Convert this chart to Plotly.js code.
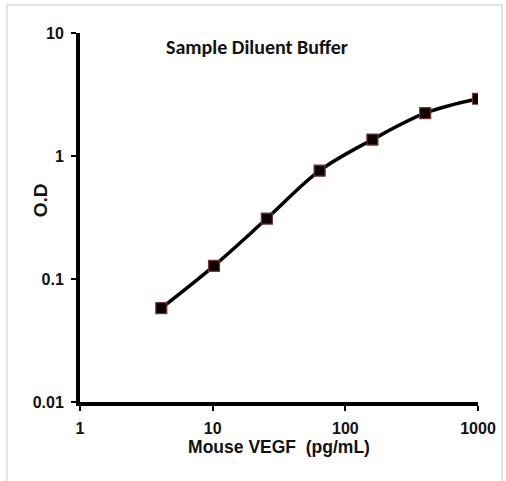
<!DOCTYPE html>
<html>
<head>
<meta charset="utf-8">
<script src="https://cdn.plot.ly/plotly-3.0.1.min.js"></script>
<style>
  html, body { margin: 0; padding: 0; background: #ffffff; }
  #frame { position: absolute; left: 6px; top: 4px; width: 497px; height: 480px;
           border: 2px solid #e4e4e4; border-bottom: none; box-sizing: border-box; }
  #chart { position: absolute; left: 0; top: 0; width: 506px; height: 481px; }
</style>
</head>
<body>
<div id="frame"></div>
<div id="chart"></div>
<script>
// Data
const concentration = [4.1, 10.24, 25.6, 64, 160, 400, 1000]; // Mouse VEGF (pg/mL)
const opticalDensity = [0.058, 0.128, 0.31, 0.76, 1.36, 2.23, 2.92]; // O.D
const xTickValues = [1, 10, 100, 1000];
const xTickLabels = ['1', '10', '100', '1000'];
const yTickValues = [0.01, 0.1, 1, 10];
const yTickLabels = ['0.01', '0.1', '1', '10'];
const chartTitle = 'Sample Diluent Buffer';
const xTitle = 'Mouse VEGF&nbsp;&nbsp;(pg/mL)';
const yTitle = 'O.D';

const sansFont = '"Liberation Sans", Arial, sans-serif';
const tickFont = { family: sansFont, size: 16, color: '#111', weight: 'bold' };

const trace = {
  x: concentration,
  y: opticalDensity,
  type: 'scatter',
  mode: 'lines+markers',
  line: { color: '#000000', width: 3.5, shape: 'spline', smoothing: 1 },
  marker: { symbol: 'square', size: 11, color: '#0a0000', line: { color: '#7a3535', width: 1.2 } },
  hoverinfo: 'x+y'
};

const layout = {
  width: 506,
  height: 481,
  margin: { l: 80, r: 28, t: 33, b: 79 },
  paper_bgcolor: 'rgba(0,0,0,0)',
  plot_bgcolor: 'rgba(0,0,0,0)',
  showlegend: false,
  xaxis: {
    type: 'log',
    range: [0, 3],
    tickvals: xTickValues,
    ticktext: xTickLabels,
    ticks: 'outside',
    ticklen: 5,
    tickwidth: 2,
    tickcolor: '#000',
    ticklabelstandoff: 4,
    showline: true,
    linecolor: '#000',
    linewidth: 4,
    showgrid: false,
    zeroline: false,
    tickfont: tickFont,
    title: { text: xTitle, font: { family: sansFont, size: 17.5, color: '#111', weight: 'bold' }, standoff: 6 }
  },
  yaxis: {
    type: 'log',
    range: [-2, 1],
    tickvals: yTickValues,
    ticktext: yTickLabels,
    ticks: 'outside',
    ticklen: 5,
    tickwidth: 2,
    tickcolor: '#000',
    ticklabelstandoff: 4,
    showline: true,
    linecolor: '#000',
    linewidth: 4,
    showgrid: false,
    zeroline: false,
    tickfont: tickFont,
    title: { text: '' }
  },
  annotations: [{
    text: chartTitle,
    xref: 'paper', yref: 'paper',
    x: 0.445, y: 0.962,
    xanchor: 'center', yanchor: 'middle',
    showarrow: false,
    font: { family: 'Carlito, "Liberation Sans", sans-serif', size: 20, color: '#111', weight: 'bold' }
  }, {
    text: yTitle,
    xref: 'paper', yref: 'paper',
    x: -0.1, y: 0.547,
    xanchor: 'center', yanchor: 'middle',
    textangle: -90,
    showarrow: false,
    font: { family: sansFont, size: 19, color: '#111', weight: 'bold' }
  }]
};

Plotly.newPlot('chart', [trace], layout, { displayModeBar: false });
</script>
</body>
</html>
